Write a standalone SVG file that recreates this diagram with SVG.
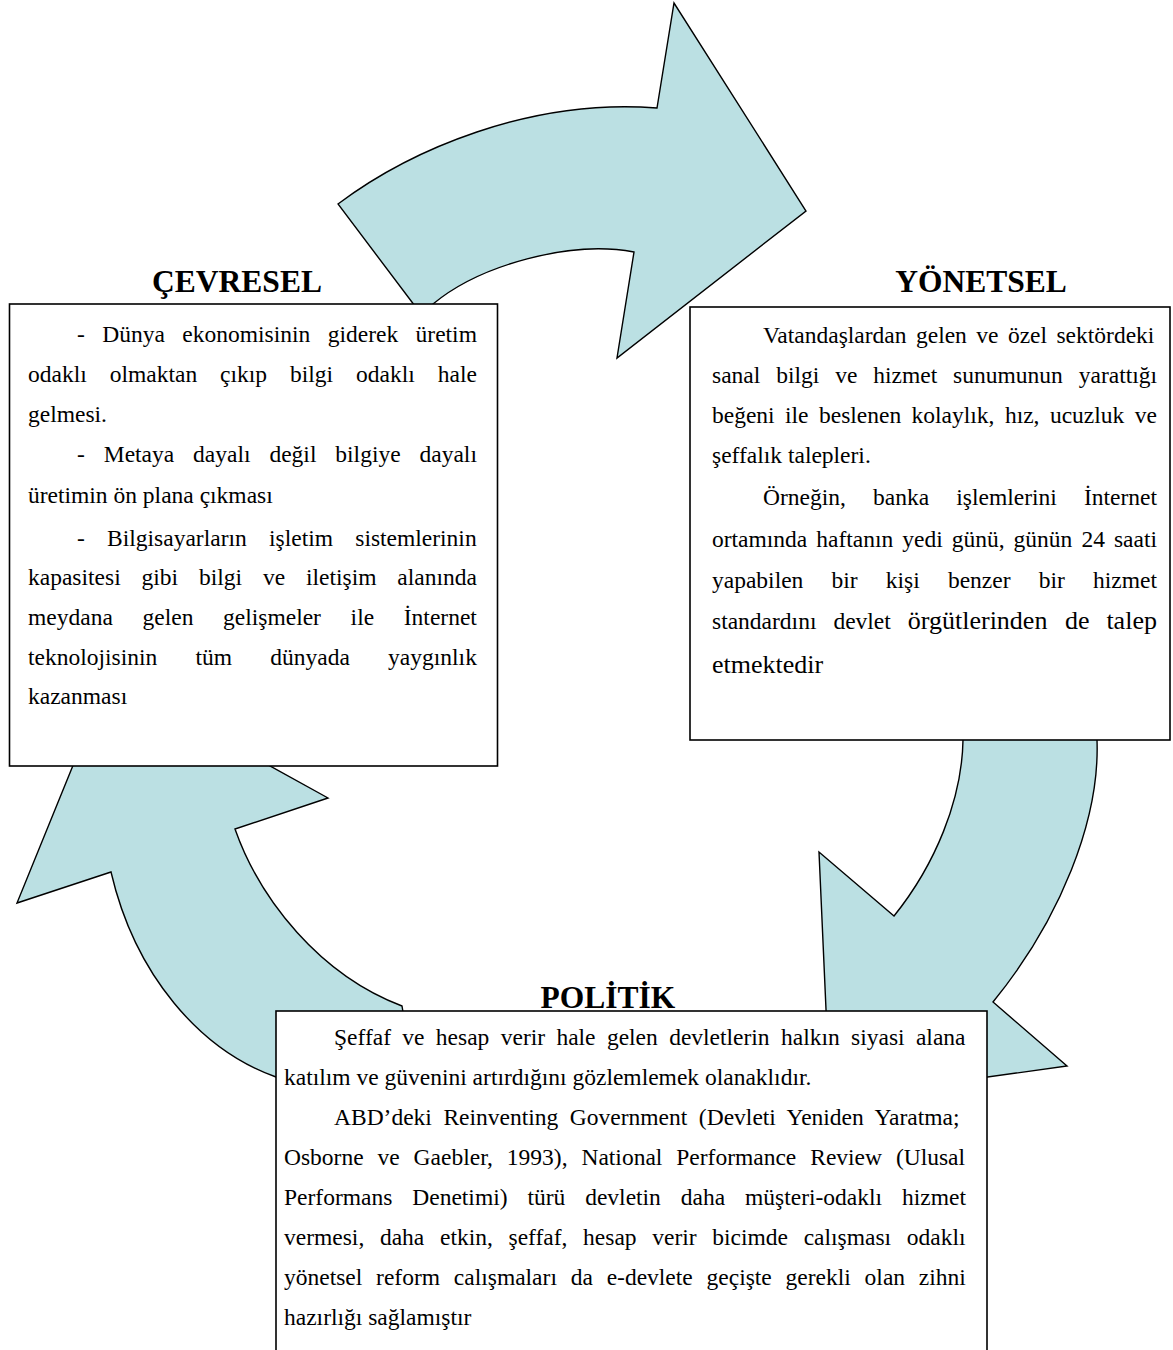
<svg xmlns="http://www.w3.org/2000/svg" width="1173" height="1350" viewBox="0 0 1173 1350">
  <style>
    .arrow { fill: #BBE0E3; stroke: #000; stroke-width: 1.4; stroke-linejoin: miter; }
    .box { fill: #fff; stroke: #000; stroke-width: 1.6; }
    .title { font-family: "Liberation Serif", "Times New Roman", serif; font-weight: bold; font-size: 31.5px; fill: #000; text-anchor: middle; }
    .body { font-family: "Liberation Serif", "Times New Roman", serif; font-size: 23.5px; fill: #000; }
    .big { font-size: 26px; }
  </style>

  <!-- curved cycle arrows (drawn first, boxes sit over their tails and tips) -->
  <g id="connectors">
    <path id="arrow-top" class="arrow" d="M 430,326 L 338,204 C 410,150 530,98 657,108 L 674,3 L 806,211 L 617,358 L 634,252 C 570,240 480,265 433,304 L 440,326 Z"/>
    <path id="arrow-right" class="arrow" d="M 1097,720 L 1097,740 C 1100,820 1060,920 993,1002 L 1067,1066 L 830,1099 L 819,852 L 894,916 C 935,865 962,800 963,740 L 963,720 Z"/>
    <path id="arrow-left" class="arrow" d="M 300,1088 L 276,1077 C 200,1050 135,975 111,872 L 17,903 L 109,677 L 328,798 L 235,829 C 260,900 320,975 402,1006 L 403,1012 L 410,1030 Z"/>
  </g>

  <g id="cevresel">
    <text class="title" x="237" y="292">ÇEVRESEL</text>
    <rect class="box" x="9.5" y="304" width="488" height="462"/>
    <text class="body" x="77" y="342" word-spacing="11.55">- Dünya ekonomisinin giderek üretim</text>
    <text class="body" x="28" y="382" word-spacing="17.08">odaklı olmaktan çıkıp bilgi odaklı hale</text>
    <text class="body" x="28" y="422">gelmesi.</text>
    <text class="body" x="77" y="462" word-spacing="13.03">- Metaya dayalı değil bilgiye dayalı</text>
    <text class="body" x="28" y="503">üretimin ön plana çıkması</text>
    <text class="body" x="77" y="546" word-spacing="16.39">- Bilgisayarların işletim sistemlerinin</text>
    <text class="body" x="28" y="585" word-spacing="14.99">kapasitesi gibi bilgi ve iletişim alanında</text>
    <text class="body" x="28" y="625" word-spacing="23.8">meydana gelen gelişmeler ile İnternet</text>
    <text class="body" x="28" y="665" word-spacing="32.36">teknolojisinin tüm dünyada yaygınlık</text>
    <text class="body" x="28" y="704">kazanması</text>
  </g>

  <g id="yonetsel">
    <text class="title" x="981" y="292">YÖNETSEL</text>
    <rect class="box" x="690" y="307" width="480" height="433"/>
    <text class="body" x="763" y="343" word-spacing="3.55">Vatandaşlardan gelen ve özel sektördeki</text>
    <text class="body" x="712" y="383" word-spacing="10.03">sanal bilgi ve hizmet sunumunun yarattığı</text>
    <text class="body" x="712" y="423" word-spacing="4.54">beğeni ile beslenen kolaylık, hız, ucuzluk ve</text>
    <text class="body" x="712" y="463">şeffalık talepleri.</text>
    <text class="body" x="763" y="505" word-spacing="21.26">Örneğin, banka işlemlerini İnternet</text>
    <text class="body" x="712" y="547" word-spacing="3.13">ortamında haftanın yedi günü, günün 24 saati</text>
    <text class="body" x="712" y="588" word-spacing="22.3">yapabilen bir kişi benzer bir hizmet</text>
    <text class="body" y="629"><tspan x="712">standardını</tspan><tspan x="833.4">devlet</tspan><tspan class="big" x="907.8">örgütlerinden</tspan><tspan class="big" x="1064.9">de</tspan><tspan class="big" x="1106.4">talep</tspan></text>
    <text class="body big" x="712" y="673">etmektedir</text>
  </g>

  <g id="politik">
    <text class="title" x="608" y="1008">POLİTİK</text>
    <rect class="box" x="276" y="1011" width="711" height="400"/>
    <text class="body" x="334" y="1045" word-spacing="5.47">Şeffaf ve hesap verir hale gelen devletlerin halkın siyasi alana</text>
    <text class="body" x="284" y="1085">katılım ve güvenini artırdığını gözlemlemek olanaklıdır.</text>
    <text class="body" x="334" y="1125" word-spacing="5.67">ABD’deki Reinventing Government (Devleti Yeniden Yaratma;</text>
    <text class="body" x="284" y="1165" word-spacing="8.03">Osborne ve Gaebler, 1993), National Performance Review (Ulusal</text>
    <text class="body" x="284" y="1205" word-spacing="14.03">Performans Denetimi) türü devletin daha müşteri-odaklı hizmet</text>
    <text class="body" x="284" y="1245" word-spacing="9.79">vermesi, daha etkin, şeffaf, hesap verir bicimde calışması odaklı</text>
    <text class="body" x="284" y="1285" word-spacing="7.91">yönetsel reform calışmaları da e-devlete geçişte gerekli olan zihni</text>
    <text class="body" x="284" y="1325">hazırlığı sağlamıştır</text>
  </g>
</svg>
